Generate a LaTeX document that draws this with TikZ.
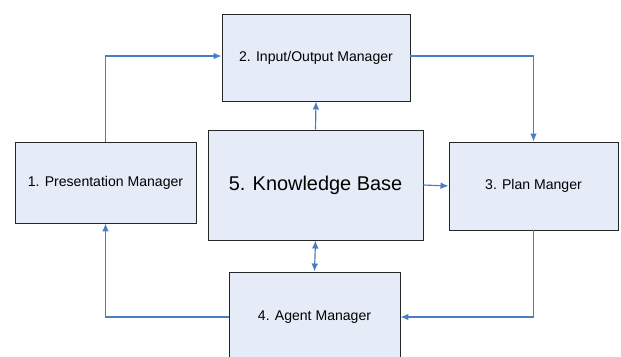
\documentclass[tikz,border=0pt]{standalone}
\usepackage{fontspec}
\setmainfont{Liberation Sans}
\usetikzlibrary{arrows.meta}
\definecolor{boxfill}{HTML}{E6ECF7}
\definecolor{linkblue}{HTML}{4A7DC4}
\begin{document}
\begin{tikzpicture}[x=0.03cm,y=-0.03cm,
  box/.style={draw=black!85,line width=0.8pt,fill=boxfill,inner sep=0pt,font=\fontsize{12}{14}\selectfont},
  link/.style={draw=linkblue,line width=1pt,-{Latex[length=2.4mm,width=2mm]}}]
\useasboundingbox (0,0) rectangle (621,356);
\node[box,minimum width=5.43cm,minimum height=2.43cm] (present) at (105.5,182.5) {1. Presentation Manager};
\node[box,minimum width=5.64cm,minimum height=2.61cm] (io) at (316,57.5) {2. Input/Output Manager};
\node[box,minimum width=5.07cm,minimum height=2.64cm] (plan) at (533.5,186) {3. Plan Manger};
\node[box,minimum width=5.13cm,minimum height=2.7cm] (agent) at (314.5,317) {4. Agent Manager};
\node[box,minimum width=6.45cm,minimum height=3.3cm,font=\fontsize{17}{20}\selectfont] (kb) at (315.5,185) {5. Knowledge Base};
\draw[link] (present.north) |- ([yshift=0.045cm]io.west);
\draw[link] ([yshift=0.045cm]io.east) -| (plan.north);
\draw[link] (kb.north) -- (io.south);
\draw[link] (kb.east) -- (plan.west);
\draw[link,{Latex[length=2.4mm,width=2mm]}-{Latex[length=2.4mm,width=2mm]}] (kb.south) -- (agent.north);
\draw[link] (plan.south) |- (agent.east);
\draw[link] (agent.west) -| (present.south);
\end{tikzpicture}
\end{document}
